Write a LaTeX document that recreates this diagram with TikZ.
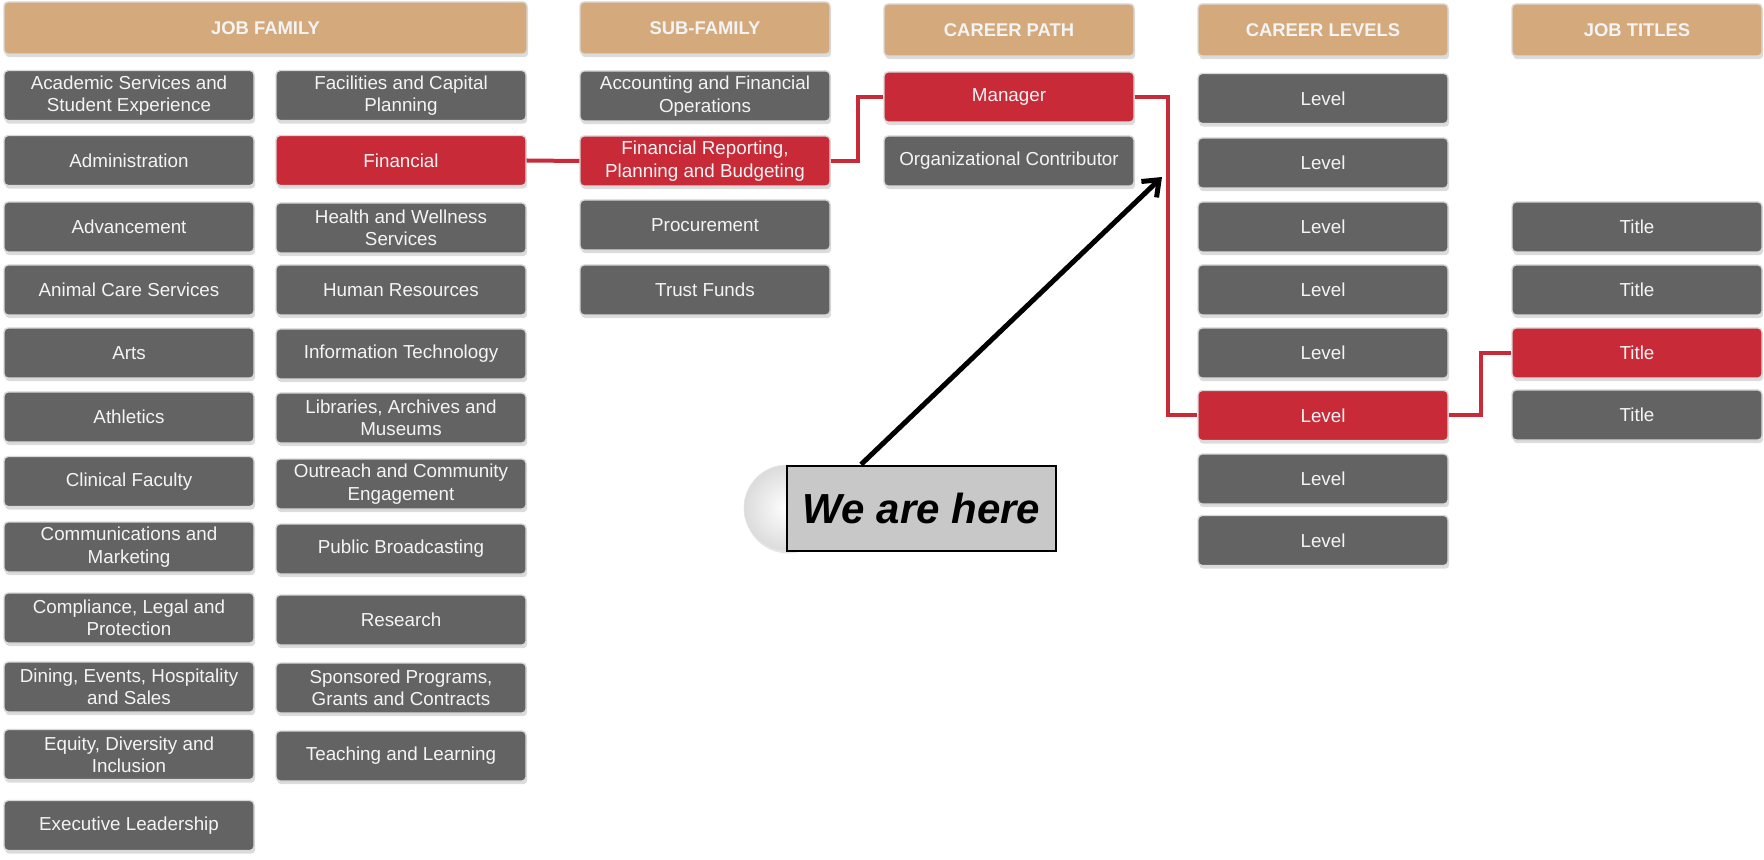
\documentclass[tikz,border=0pt]{standalone}
\usepackage{fontspec}
\setmainfont{Liberation Sans}
\usetikzlibrary{shadows,arrows.meta}
\definecolor{hdrtan}{HTML}{D4AA7D}
\definecolor{boxgray}{HTML}{636363}
\definecolor{boxred}{HTML}{C82A38}
\definecolor{wahgray}{HTML}{C8C8C8}
\definecolor{boxtext}{HTML}{F4F4F4}
\begin{document}
\begin{tikzpicture}[x=0.5pt,y=-0.5pt,
  box/.style={rounded corners=2pt, draw=white!85!black, line width=0.7pt, text=boxtext,
    align=center, minimum width=125pt, minimum height=25pt, inner sep=0pt,
    font=\fontsize{9.4}{11.2}\selectfont,
    drop shadow={opacity=0.28, shadow xshift=0.6pt, shadow yshift=-1.6pt}},
  gbox/.style={box, fill=boxgray},
  rbox/.style={box, fill=boxred},
  hbox/.style={box, fill=hdrtan, minimum height=26pt, font=\fontsize{9.2}{11}\selectfont\bfseries},
  conn/.style={draw=boxred, line width=2pt}
]
\useasboundingbox (0,0) rectangle (1764,860);

% headers
\node[hbox, minimum width=261.5pt] (hjf) at (265.5,28) {JOB FAMILY};
\node[hbox] (hsf) at (705,28) {SUB-FAMILY};
\node[hbox] (hcp) at (1009,30) {CAREER PATH};
\node[hbox] (hcl) at (1323,30) {CAREER LEVELS};
\node[hbox] (hjt) at (1637,30) {JOB TITLES};

% job family column 1
\node[gbox] (a1) at (129,95.5) {Academic Services and\\Student Experience};
\node[gbox] (a2) at (129,160.5) {Administration};
\node[gbox] (a3) at (129,227) {Advancement};
\node[gbox] (a4) at (129,290) {Animal Care Services};
\node[gbox] (a5) at (129,353) {Arts};
\node[gbox] (a6) at (129,417) {Athletics};
\node[gbox] (a7) at (129,481.5) {Clinical Faculty};
\node[gbox] (a8) at (129,547) {Communications and\\Marketing};
\node[gbox] (a9) at (129,618) {Compliance, Legal and\\Protection};
\node[gbox] (a10) at (129,687) {Dining, Events, Hospitality\\and Sales};
\node[gbox] (a11) at (129,754.5) {Equity, Diversity and\\Inclusion};
\node[gbox] (a12) at (129,825.5) {Executive Leadership};

% job family column 2
\node[gbox] (b1) at (401,95.5) {Facilities and Capital\\Planning};
\node[rbox] (b2) at (401,160.5) {Financial};
\node[gbox] (b3) at (401,228) {Health and Wellness\\Services};
\node[gbox] (b4) at (401,290) {Human Resources};
\node[gbox] (b5) at (401,354) {Information Technology};
\node[gbox] (b6) at (401,418) {Libraries, Archives and\\Museums};
\node[gbox] (b7) at (401,484) {Outreach and Community\\Engagement};
\node[gbox] (b8) at (401,549) {Public Broadcasting};
\node[gbox] (b9) at (401,620) {Research};
\node[gbox] (b10) at (401,688) {Sponsored Programs,\\Grants and Contracts};
\node[gbox] (b11) at (401,756) {Teaching and Learning};

% sub-family
\node[gbox] (s1) at (705,96) {Accounting and Financial\\Operations};
\node[rbox] (s2) at (705,161) {Financial Reporting,\\Planning and Budgeting};
\node[gbox] (s3) at (705,225) {Procurement};
\node[gbox] (s4) at (705,290) {Trust Funds};

% career path
\node[rbox] (p1) at (1009,97) {Manager};
\node[gbox] (p2) at (1009,161) {Organizational Contributor};

% career levels
\node[gbox] (l1) at (1323,98.5) {Level};
\node[gbox] (l2) at (1323,163) {Level};
\node[gbox] (l3) at (1323,227) {Level};
\node[gbox] (l4) at (1323,290) {Level};
\node[gbox] (l5) at (1323,353) {Level};
\node[rbox] (l6) at (1323,415.5) {Level};
\node[gbox] (l7) at (1323,479) {Level};
\node[gbox] (l8) at (1323,540.5) {Level};

% job titles
\node[gbox] (t1) at (1637,227) {Title};
\node[gbox] (t2) at (1637,290) {Title};
\node[rbox] (t3) at (1637,353) {Title};
\node[gbox] (t4) at (1637,415) {Title};

% connectors
\draw[conn] (b2.east) -- (s2.west);
\draw[conn] (s2.east) -- ++(27,0) |- (p1.west);
\draw[conn] (p1.east) -- ++(33,0) |- (l6.west);
\draw[conn] (l6.east) -- ++(32,0) |- (t3.west);

% we are here
\node[circle, minimum size=43pt, inner sep=0pt, inner color=white, outer color=black!14, draw=black!10, line width=0.3pt,
  drop shadow={opacity=0.2, shadow xshift=0.5pt, shadow yshift=-1.2pt}] (knob) at (787,508) {};
\node[fill=wahgray, draw=black, line width=1pt, minimum width=134.5pt, minimum height=42.5pt, inner sep=0pt,
  font=\fontsize{21}{25}\selectfont\bfseries\itshape, text=black] (wah) at (921.5,508) {We are here};
\coordinate (tip) at (1162,177);
\draw[line width=2.5pt, -{Straight Barb[length=7pt,width=11pt]}] ([xshift=-30.25pt]wah.north) -- (tip);
\end{tikzpicture}
\end{document}
